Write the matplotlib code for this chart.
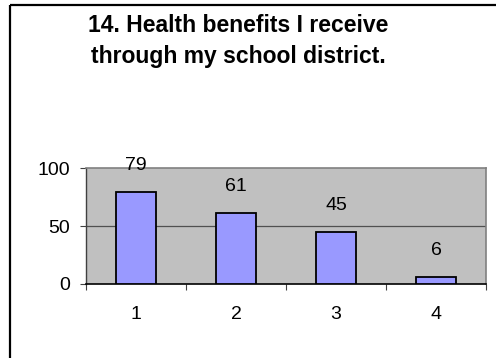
import matplotlib
matplotlib.use("Agg")
import matplotlib.pyplot as plt
from matplotlib.lines import Line2D
import numpy as np

plt.rcParams['font.family'] = ['Liberation Sans', 'DejaVu Sans']

title_lines = ["14. Health benefits I receive", "through my school district."]
categories = ["1", "2", "3", "4"]
values = [79, 61, 45, 6]
yticks = [0, 50, 100]

W, H = 496, 358
fig = plt.figure(figsize=(W / 100, H / 100), dpi=100)
fig.patch.set_facecolor("white")

# outer chart frame (only top and left visible)
fig.add_artist(Line2D([9.5 / W, 9.5 / W], [0, 1 - 4.5 / H], color="black", lw=1.6,
                      transform=fig.transFigure, solid_capstyle="butt"))
fig.add_artist(Line2D([9.5 / W, 1], [1 - 4.5 / H, 1 - 4.5 / H], color="black", lw=1.6,
                      transform=fig.transFigure, solid_capstyle="butt"))

ax = fig.add_axes([86 / W, 1 - 284 / H, 400 / W, 116 / H])
ax.set_facecolor("#C0C0C0")
x = np.arange(len(categories))
bars = ax.bar(x, values, width=0.4, color="#9999FF", edgecolor="black", linewidth=1.3, zorder=3)
ax.set_xlim(-0.5, len(categories) - 0.5)
ax.set_ylim(0, 100)

ax.axhline(50, color="#505050", lw=0.9, zorder=1)

for s in ["top", "right"]:
    ax.spines[s].set_color("#808080")
    ax.spines[s].set_linewidth(1.2)
ax.spines["left"].set_color("#404040")
ax.spines["bottom"].set_color("black")
ax.spines["left"].set_linewidth(1.0)
ax.spines["bottom"].set_linewidth(1.2)

fs = 14
ax.set_yticks(yticks)
ax.set_yticklabels([str(t) for t in yticks], fontsize=fs)
ax.tick_params(axis="y", length=4.5, width=0.8, color="#404040", pad=7)

ax.set_xticks(x)
ax.set_xticklabels(categories, fontsize=fs)
ax.tick_params(axis="x", which="major", length=0, pad=16)
ax.set_xticks(np.arange(-0.5, len(categories)), minor=True)
ax.tick_params(axis="x", which="minor", length=4.5, width=0.8, color="#404040")

for xi, v in zip(x, values):
    ax.annotate(str(v), (xi, v), xytext=(0, 13), textcoords="offset points",
                ha="center", va="bottom", fontsize=fs, zorder=4, annotation_clip=False)

for i, line in enumerate(title_lines):
    fig.text(238 / W, 1 - (25 + 32 * i) / H, line, ha="center", va="center",
             fontsize=16.5, fontweight="bold")

fig.savefig("out.png", dpi=100)
